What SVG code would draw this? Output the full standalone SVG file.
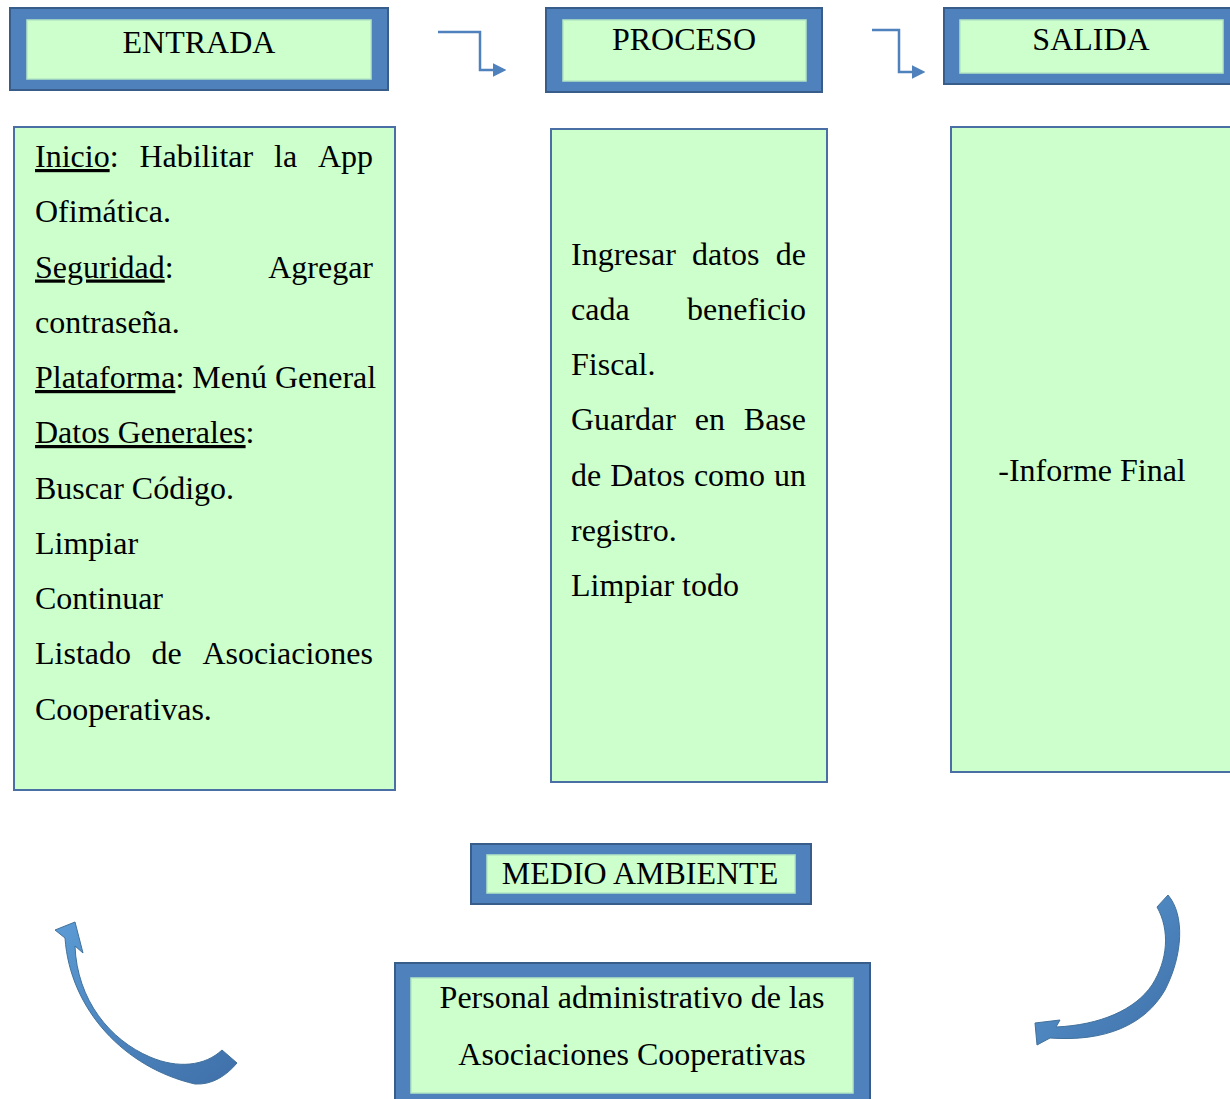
<svg xmlns="http://www.w3.org/2000/svg" width="1230" height="1099" viewBox="0 0 1230 1099">
<style>
text{font-family:"Liberation Serif","Times New Roman",serif;font-size:32px;fill:#000}
.outer{fill:#4F81BD;stroke:#385D8A;stroke-width:2}
.inner{fill:#CCFFCC;stroke:#B4E6C4;stroke-width:1.5}
.box{fill:#CCFFCC;stroke:#4A6FA5;stroke-width:2}
.conn{fill:none;stroke:#4F81BD;stroke-width:2.5}
.carrow{fill:url(#g);stroke:#41719C;stroke-width:1}
.u{text-decoration:underline}
.c{text-anchor:middle}
.e{text-anchor:end}
</style>
<defs>
<marker id="ah" viewBox="0 0 10 10" refX="1" refY="5" markerWidth="5.5" markerHeight="5.5" orient="auto" markerUnits="strokeWidth">
<path d="M0,0 L10,5 L0,10 Z" fill="#4F81BD"/>
</marker>
<linearGradient id="g" x1="0" y1="0" x2="1" y2="1">
<stop offset="0" stop-color="#5B9BD5"/>
<stop offset="1" stop-color="#3F6FA8"/>
</linearGradient>
</defs>

<g id="entrada-title">
<rect class="outer" x="10" y="8" width="378" height="82"/>
<rect class="inner" x="27" y="20" width="344" height="59"/>
<text class="c" x="199" y="53">ENTRADA</text>
</g>
<g id="proceso-title">
<rect class="outer" x="546" y="8" width="276" height="84"/>
<rect class="inner" x="563" y="20" width="243" height="61"/>
<text class="c" x="684" y="50">PROCESO</text>
</g>
<g id="salida-title">
<rect class="outer" x="944" y="8" width="300" height="76"/>
<rect class="inner" x="960" y="20" width="263" height="53"/>
<text class="c" x="1091" y="50">SALIDA</text>
</g>

<g id="connectors">
<path class="conn" d="M438,32 H480 V70 H494" marker-end="url(#ah)"/>
<path class="conn" d="M872,30 H899 V72 H913" marker-end="url(#ah)"/>
<path class="carrow" d="M75,922 L83,953 L75,946 C77,1000 110,1040 150,1057 C178,1069 205,1066 222,1050 L237,1063 C226,1076 212,1085 195,1084 C125,1068 70,1010 65,938 L55,930 Z"/>
<path class="carrow" d="M1035,1023 L1060,1020 L1056,1027 C1100,1025 1135,1010 1152,985 C1168,960 1170,930 1157,907 L1168,895 C1185,915 1183,955 1165,990 C1145,1025 1105,1042 1050,1038 L1037,1045 Z"/>
</g>

<g id="entrada-box">
<rect class="box" x="14" y="127" width="381" height="663"/>
<text y="167"><tspan x="35" class="u">Inicio</tspan><tspan>:</tspan><tspan x="139.4">Habilitar</tspan><tspan x="274">la</tspan><tspan x="373" class="e">App</tspan></text>
<text x="35" y="222">Ofimática.</text>
<text y="277.5"><tspan x="35" class="u">Seguridad</tspan><tspan>:</tspan></text>
<text class="e" x="373" y="277.5">Agregar</text>
<text x="35" y="333">contraseña.</text>
<text x="35" y="388"><tspan class="u">Plataforma</tspan>: Menú General</text>
<text x="35" y="443"><tspan class="u">Datos Generales</tspan>:</text>
<text x="35" y="498.5">Buscar Código.</text>
<text x="35" y="554">Limpiar</text>
<text x="35" y="609">Continuar</text>
<text y="664"><tspan x="35">Listado</tspan><tspan x="151.6">de</tspan></text>
<text class="e" x="373" y="664">Asociaciones</text>
<text x="35" y="719.5">Cooperativas.</text>
</g>

<g id="proceso-box">
<rect class="box" x="551" y="129" width="276" height="653"/>
<text y="264.5"><tspan x="571">Ingresar</tspan><tspan x="692">datos</tspan></text>
<text class="e" x="806" y="264.5">de</text>
<text x="571" y="319.5">cada</text>
<text class="e" x="806" y="319.5">beneficio</text>
<text x="571" y="375">Fiscal.</text>
<text y="430"><tspan x="571">Guardar</tspan><tspan x="694.7">en</tspan></text>
<text class="e" x="806" y="430">Base</text>
<text y="485.5"><tspan x="571">de</tspan><tspan x="610.2">Datos</tspan><tspan x="693.9">como</tspan></text>
<text class="e" x="806" y="485.5">un</text>
<text x="571" y="540.5">registro.</text>
<text x="571" y="596">Limpiar todo</text>
</g>

<g id="salida-box">
<rect class="box" x="951" y="127" width="290" height="645"/>
<text class="c" x="1092" y="480.5">-Informe Final</text>
</g>

<g id="medio-ambiente">
<rect class="outer" x="471" y="844" width="340" height="60"/>
<rect class="inner" x="487" y="855" width="308" height="38"/>
<text class="c" x="640" y="884">MEDIO AMBIENTE</text>
</g>

<g id="personal">
<rect class="outer" x="395" y="963" width="475" height="145"/>
<rect class="inner" x="411" y="978" width="442" height="115"/>
<text class="c" x="632" y="1008">Personal administrativo de las</text>
<text class="c" x="632" y="1065">Asociaciones Cooperativas</text>
</g>
</svg>
